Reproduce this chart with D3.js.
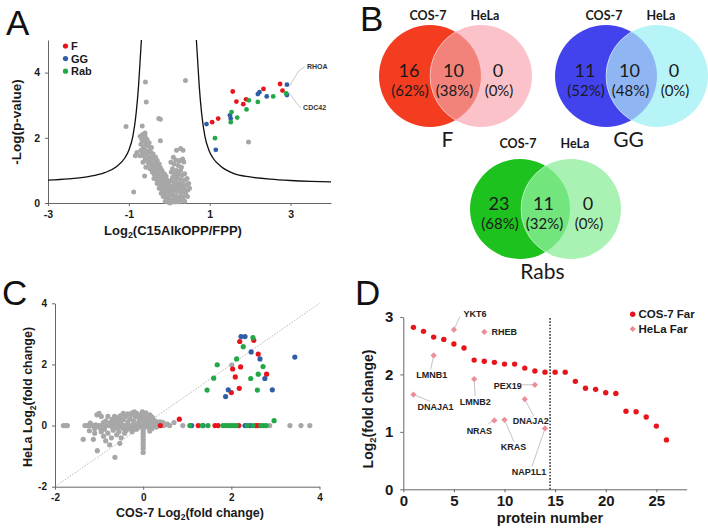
<!DOCTYPE html>
<html>
<head>
<meta charset="utf-8">
<script src="https://cdn.jsdelivr.net/npm/d3@7"></script>
<style>
body { margin: 0; background: #fff; }
svg { display: block; }
text { font-family: "Liberation Sans", Arial, sans-serif; }
.venn text { font-family: Lato, "Open Sans", sans-serif; }
</style>
</head>
<body>
<svg id="fig" width="708" height="530"></svg>
<script>
// ---------- panel A : volcano, [log2 ratio, -log p] ----------
const aXTicks = [-3, -1, 1, 3]
const aYTicks = [0, 2, 4]
const aF = [[1.06,2.48],[1.21,2.59],[1.57,3.42],[1.66,3.11],[1.83,3.03],[1.90,3.18],[2.33,3.50],[2.74,3.65],[2.80,3.45]]
const aGG = [[0.92,2.42],[1.15,1.63],[1.50,2.69],[1.52,2.59],[2.19,3.34],[2.23,3.40],[2.41,3.27],[2.91,3.63],[2.91,3.31]]
const aRab = [[1.13,1.99],[1.52,2.48],[1.54,2.79],[1.68,2.62],[1.91,2.87],[1.97,3.15],[2.19,3.10],[2.57,3.27],[2.89,3.36]]
const aGray = [
  [-0.59,3.71],[0.40,3.76],[-0.57,3.10],[-0.26,2.59],[-0.22,2.57],[-1.07,2.35],[-0.67,2.36],[-0.22,1.91],
  [0.18,1.62],[0.28,1.67],[0.34,1.62],[-0.88,0.34],[-0.61,0.83],[1.96,1.87],[-0.84,1.45],[0.36,1.26],
  [-0.72,2.05],[-0.66,2.1],[-0.6,2.05],[-0.68,1.95],[-0.62,1.9],[-0.55,1.95],[-0.7,1.8],[-0.58,1.8],
  [-0.64,1.7],[-0.52,1.75],[-0.6,1.62],[-0.5,1.6],[-0.56,1.5],[-0.45,1.55],[-0.62,1.45],[-0.5,1.4],
  [-0.42,1.42],[-0.55,1.32],[-0.46,1.3],[-0.38,1.35],[-0.5,1.2],[-0.4,1.2],[-0.33,1.25],[-0.45,1.1],
  [-0.36,1.1],[-0.28,1.15],[-0.42,1.0],[-0.32,1.0],[-0.24,1.05],[-0.38,0.9],[-0.28,0.9],[-0.2,0.95],
  [-0.34,0.8],[-0.25,0.8],[-0.16,0.85],[-0.3,0.7],[-0.2,0.7],[-0.12,0.75],[-0.26,0.6],[-0.16,0.6],
  [-0.08,0.65],[-0.22,0.5],[-0.12,0.5],[-0.04,0.55],[-0.18,0.4],[-0.08,0.4],[0.0,0.45],[-0.14,0.3],
  [-0.05,0.3],[0.02,0.35],[-0.1,0.2],[-0.02,0.2],[0.04,0.25],[-0.06,0.1],[0.0,0.1],[0.04,0.05],
  [-0.02,0.02],[0.02,0.0],[-0.8,1.55],[-0.72,1.45],[-0.65,1.25],[-0.58,1.1],
  [-0.6,2.15],[-0.5,1.85],[-0.44,1.7],[-0.4,1.5],[-0.34,1.4],[-0.3,1.3],[-0.25,1.2],[-0.22,1.08],
  [-0.18,1.0],[-0.12,0.9],[-0.08,0.82],[-0.05,0.7],[-0.02,0.62],[0.0,0.55],[-0.7,1.62],[-0.66,1.55],
  [-0.6,1.35],[-0.52,1.25],[-0.48,1.05],[-0.42,0.95],[-0.38,0.75],[-0.3,0.6],[-0.25,0.45],[-0.2,0.3],
  [-0.15,0.2],[-0.1,0.05],
  [0.1,1.4],[0.16,1.32],[0.24,1.28],[0.12,1.2],[0.22,1.15],[0.3,1.1],[0.08,1.05],[0.18,1.0],
  [0.28,1.0],[0.12,0.9],[0.22,0.88],[0.32,0.85],[0.08,0.78],[0.18,0.75],[0.28,0.72],[0.38,0.7],
  [0.12,0.62],[0.22,0.6],[0.32,0.58],[0.42,0.55],[0.08,0.5],[0.16,0.48],[0.26,0.45],[0.36,0.45],
  [0.46,0.4],[0.12,0.38],[0.2,0.35],[0.3,0.32],[0.4,0.3],[0.08,0.25],[0.16,0.22],[0.26,0.2],
  [0.34,0.18],[0.1,0.12],[0.2,0.1],[0.28,0.08],[0.06,0.05],[0.14,0.03],
  [0.04,1.25],[0.05,0.95],[0.04,0.68],[0.03,0.4],[0.33,1.35],[0.38,0.9],[0.44,0.75],[0.48,0.6],
  [0.5,0.45],[0.45,0.2],[0.38,0.05],[0.24,0.03],[0.3,0.5],[0.36,0.35],[0.25,0.55],[0.15,0.65],
  [0.2,0.85],[0.26,1.3]
]
const aCurveLeft = [[-3,0.70],[-2.5,0.74],[-2,0.81],[-1.6,0.93],[-1.3,1.12],[-1.1,1.38],[-1.0,1.62],[-0.9,2.05],[-0.82,2.75],[-0.76,3.6],[-0.72,4.4],[-0.69,5.0]]
const aCurveRight = [[0.67,5.0],[0.70,4.4],[0.74,3.6],[0.80,2.75],[0.88,2.05],[0.98,1.62],[1.08,1.38],[1.28,1.12],[1.6,0.9],[2,0.8],[2.5,0.73],[3,0.69],[3.5,0.665],[4,0.65]]
const aCallNames = ['RHOA', 'CDC42']
const aCallPts = [[2.91,3.63],[2.89,3.36]]

// ---------- panel B : venn counts ----------
const vennNames = ['F', 'GG', 'Rabs']
const vennCos = [16, 11, 23]
const vennShared = [10, 10, 11]
const vennHela = [0, 0, 0]
const vennSetNames = ['COS-7', 'HeLa']

// ---------- panel C : COS-7 vs HeLa log2 fold change ----------
const cTicks = [-2, 0, 2, 4]
const cF = [[2.19,2.75],[2.51,2.79],[2.61,2.34],[2.03,1.85],[2.21,1.92],[2.80,1.68],[2.09,1.59],[2.18,1.22],[2.00,1.08],
  [0.39,0],[0.82,0.21],[1.25,0],[1.63,0],[1.70,0],[2.17,0],[2.56,0],[2.61,0]]
const cGG = [[2.22,2.91],[2.31,2.91],[2.45,2.41],[2.65,2.18],[2.76,1.54],[3.44,2.24],[1.93,1.17],[1.87,0.95],[2.93,1.17],
  [1.10,0],[1.36,0],[2.31,0],[2.42,0]]
const cRab = [[2.49,2.88],[2.27,2.58],[2.12,2.18],[1.68,1.99],[2.72,1.93],[2.61,1.68],[2.44,1.54],[1.60,1.55],[1.45,1.16],[2.59,1.16],
  [1.06,0],[1.34,0],[1.47,0],[1.81,0],[1.87,0],[1.93,0],[1.99,0],[2.05,0],[2.11,0],[2.36,0],[2.49,0],[2.67,0],[2.73,0],[2.79,0],[2.97,0.16]]
const cGray = [
  [2.01,1.98],[-1.81,0],[-1.76,0],[-1.72,0],[2.87,0],[3.33,0],[3.58,0],[3.78,0],[0.55,0.05],[0.7,0.1],[0.9,0],
  [-1.32,0],[-1.26,0],[-1.2,0],[-1.14,0],[-1.08,0.02],[-1.02,0],[-0.96,0],[-0.9,0.03],[-0.84,0],[-0.78,0],
  [-0.72,0.02],[-0.66,0],[-0.6,0],[-0.54,0.03],[-0.48,0],[-0.42,0],[-0.36,0.02],[-0.3,0],[-0.24,0],[-0.18,0.02],
  [-0.12,0],[-0.06,0],[0.04,0],[0.1,0.02],[0.16,0],[0.22,0],[0.28,0.02],[0.34,0],[0.46,0],[0.52,0.03],[0.6,0],
  [-0.95,0.3],[-1.0,0.4],[-1.05,0.35],[-0.85,0.15],[-0.75,0.1],[-0.7,0.2],[-0.62,0.12],[-0.58,0.25],[-0.5,0.1],
  [-0.45,0.2],[-0.4,0.3],[-0.35,0.12],[-0.3,0.22],[-0.28,0.35],[-0.22,0.15],[-0.18,0.28],[-0.15,0.4],[-0.1,0.12],
  [-0.08,0.25],[-0.05,0.35],[-0.02,0.45],[0.02,0.15],[0.05,0.3],[0.06,0.42],[0.1,0.1],[0.12,0.22],[0.15,0.35],
  [0.2,0.12],[0.22,0.25],[0.28,0.15],[0.32,0.08],[0.38,0.12],[0.42,0.06],[-0.55,0.18],[-0.65,0.05],
  [-0.9,0.1],[-0.8,0.3],[-0.65,0.3],[-0.52,0.32],[-0.45,0.4],[-0.35,0.38],[-0.25,0.42],[-0.12,0.3],
  [-0.2,0.45],[0.08,0.2],[0.18,0.3],[0.25,0.08],[-1.2,0.08],[0.45,0.1],
  [-1.36,-0.45],[-1.22,-0.17],[-1.13,-0.45],[-1.04,-0.82],[-0.64,-1.04],[-0.76,-0.63],[-0.53,-0.58],[-1.1,-0.25],
  [-0.95,-0.2],[-0.9,-0.35],[-0.85,-0.5],[-0.8,-0.25],[-0.72,-0.4],[-0.68,-0.15],[-0.6,-0.3],[-0.55,-0.2],
  [-0.5,-0.4],[-0.45,-0.1],[-0.42,-0.25],[-0.38,-0.15],[-0.3,-0.1],[-0.25,-0.2],[-0.2,-0.08],[-0.15,-0.12],
  [-0.1,-0.05],[0.1,-0.05],[0.2,-0.1],[0.15,-0.18],[-1.1,-0.1],[-0.98,-0.08],[-0.88,-0.12],[-0.7,-0.05],
  [-0.62,-0.08],[-0.55,-0.05],[-0.35,-0.05],[0.3,-0.05],
  [0,-0.05],[0,-0.15],[0,-0.25],[0,-0.35],[0,-0.45],[0,-0.55],[0,-0.65],[0,-0.75],[0,-0.88],[0,0.05],[0,0.2],[0,0.35]
]

// ---------- panel D : farnesylated proteins ----------
const dXTicks = [0, 5, 10, 15, 20, 25]
const dYTicks = [0, 1, 2, 3]
const dProtein = [1,2,3,4,5,6,7,8,9,10,11,12,13,14,15,16,17,18,19,20,21,22,23,24,25,26]
const dCos = [2.82,2.75,2.65,2.61,2.53,2.46,2.25,2.23,2.21,2.18,2.18,2.11,2.06,2.04,2.04,2.04,1.88,1.76,1.74,1.68,1.67,1.36,1.35,1.26,1.10,0.86]
const dHelaNames = ['DNAJA1','LMNB1','YKT6','LMNB2','RHEB','NRAS','KRAS','DNAJA2','PEX19','NAP1L1']
const dHelaPos = [1,3,5,7,8,9,10,12,13,14]
const dHelaVal = [1.65,2.33,2.78,1.92,2.74,1.20,1.21,1.57,1.82,1.06]
const dCutoff = 14.5

const RED = '#e8141c', BLUE = '#2f5ea6', GREEN = '#22a846', GRAY = '#a7a7a7', PINK = '#ec8e97'
const AXIS = '#666'

const svg = d3.select('#fig')

function dots(g, pts, x, y, r, fill) {
    g.append('g').selectAll('circle').data(pts).join('circle')
        .attr('cx', d => x(d[0])).attr('cy', d => y(d[1]))
        .attr('r', r).attr('fill', fill)
}

function styleAxis(g, size) {
    g.attr('font-family', '"Liberation Sans", Arial, sans-serif')
        .attr('font-size', size).attr('font-weight', 'bold')
    g.select('.domain').attr('stroke', AXIS)
    g.selectAll('.tick line').attr('stroke', AXIS)
    g.selectAll('.tick text').attr('fill', '#1a1a1a')
}

// label with a subscript, e.g. Log2(...)
function subText(t, pre, sub, post, size) {
    t.attr('font-size', size).attr('font-weight', 'bold').attr('fill', '#1a1a1a')
    t.append('tspan').text(pre)
    t.append('tspan').text(sub).attr('font-size', size * 0.68).attr('dy', size * 0.25)
    t.append('tspan').text(post).attr('dy', -size * 0.25)
}

function panelLetter(x, y, s) {
    svg.append('text').attr('x', x).attr('y', y).text(s)
        .attr('font-size', 35).attr('fill', '#111')
        .style('font-family', '"Liberation Sans", Arial, sans-serif')
}

// ================= A =================
{
    const x = d3.scaleLinear().domain([-3, 4]).range([48, 331])
    const y = d3.scaleLinear().domain([0, 5]).range([203, 40])
    const g = svg.append('g')

    const xa = g.append('g').attr('transform', `translate(0,${y(0)})`)
        .call(d3.axisBottom(x).tickValues(aXTicks).tickSize(3).tickSizeOuter(0).tickPadding(5).tickFormat(d => String(d)))
    styleAxis(xa, 10.5)
    const ya = g.append('g').attr('transform', `translate(${x(-3)},0)`)
        .call(d3.axisLeft(y).tickValues(aYTicks).tickSize(3).tickSizeOuter(0).tickPadding(5).tickFormat(d => String(d)))
    styleAxis(ya, 10.5)

    dots(g, aGray, x, y, 2.5, GRAY)

    const line = d3.line().x(d => x(d[0])).y(d => y(d[1])).curve(d3.curveMonotoneX)
    ;[aCurveLeft, aCurveRight].forEach(c => {
        g.append('path').attr('d', line(c)).attr('fill', 'none')
            .attr('stroke', '#111').attr('stroke-width', 1.3)
    })

    dots(g, aF, x, y, 2.4, RED)
    dots(g, aGG, x, y, 2.4, BLUE)
    dots(g, aRab, x, y, 2.4, GREEN)

    // callouts
    const callOff = [[[12, -14], [18, -18]], [[13, 13], [15, 14]]]
    aCallNames.forEach((n, i) => {
        const px = x(aCallPts[i][0]), py = y(aCallPts[i][1])
        const o = callOff[i]
        g.append('polyline')
            .attr('points', [[px + 2, py - Math.sign(o[0][1]) * 2], [px + o[0][0], py + o[0][1]], [px + o[1][0], py + o[1][1]]].join(' '))
            .attr('fill', 'none').attr('stroke', '#bbb').attr('stroke-width', 0.8)
        g.append('text').attr('x', px + o[1][0] + 2).attr('y', py + o[1][1]).attr('dy', '0.35em')
            .attr('font-size', 7).attr('font-weight', 'bold').attr('fill', '#333').text(n)
    })

    // legend
    const leg = [['F', RED], ['GG', BLUE], ['Rab', GREEN]]
    leg.forEach((l, i) => {
        g.append('circle').attr('cx', 65.5).attr('cy', 46 + i * 12.6).attr('r', 2.6).attr('fill', l[1])
        g.append('text').attr('x', 71).attr('y', 46 + i * 12.6).attr('dy', '0.36em')
            .attr('font-size', 11).attr('font-weight', 'bold').attr('fill', '#1a1a1a').text(l[0])
    })

    g.append('text').attr('x', 173).attr('y', 235).attr('text-anchor', 'middle')
        .call(t => subText(t, 'Log', '2', '(C15AlkOPP/FPP)', 13))
    g.append('text').attr('transform', 'translate(16,122) rotate(-90)').attr('text-anchor', 'middle')
        .attr('dy', '0.35em').attr('font-size', 13.5).attr('font-weight', 'bold').attr('fill', '#1a1a1a')
        .text('-Log(p-value)')
    panelLetter(6, 35, 'A')
}

// ================= B =================
{
    const layout = [
        { cx: 430, cy: 76, r: 51, d: 51, colors: ['#f43c20', '#fbc3c9', '#f3837a'], head: 20, lab: 147, labDx: -8 },
        { cx: 606, cy: 76, r: 51, d: 51, colors: ['#4343ee', '#b6f4f7', '#8fb6f3'], head: 20, lab: 147, labDx: -3 },
        { cx: 520, cy: 209, r: 50, d: 51, colors: ['#1ec21e', '#aaf2b3', '#72e57d'], head: 148, lab: 279, labDx: -3 }
    ]
    const fmt = d3.format('.0%')
    const g = svg.append('g').attr('class', 'venn')
    const defs = svg.append('defs')

    vennNames.forEach((name, i) => {
        const L = layout[i]
        const x2 = L.cx + L.d
        const total = vennCos[i] + vennShared[i] + vennHela[i]
        defs.append('clipPath').attr('id', 'vclip' + i)
            .append('circle').attr('cx', L.cx).attr('cy', L.cy).attr('r', L.r)
        g.append('circle').attr('cx', L.cx).attr('cy', L.cy).attr('r', L.r).attr('fill', L.colors[0])
        g.append('circle').attr('cx', x2).attr('cy', L.cy).attr('r', L.r).attr('fill', L.colors[1])
        g.append('circle').attr('cx', x2).attr('cy', L.cy).attr('r', L.r).attr('fill', L.colors[2])
            .attr('stroke', 'rgba(255,255,255,0.45)').attr('stroke-width', 1)
            .attr('clip-path', `url(#vclip${i})`)

        const mid = (L.cx + x2) / 2
        const regions = [[L.cx - 21, vennCos[i]], [mid - 2, vennShared[i]], [x2 + 17, vennHela[i]]]
        regions.forEach(r => {
            g.append('text').attr('x', r[0]).attr('y', L.cy + 1).attr('text-anchor', 'middle')
                .attr('font-size', 18).attr('fill', '#1a1a1a').text(r[1])
            g.append('text').attr('x', r[0] + 1).attr('y', L.cy + 20).attr('text-anchor', 'middle')
                .attr('font-size', 15).attr('fill', '#1a1a1a').text(`(${fmt(r[1] / total)})`)
        })
        g.append('text').attr('x', L.cx - 2).attr('y', L.head).attr('text-anchor', 'middle')
            .attr('font-size', 12.5).attr('font-weight', 'bold').attr('fill', '#1a1a1a').text(vennSetNames[0])
        g.append('text').attr('x', x2 + 4).attr('y', L.head).attr('text-anchor', 'middle')
            .attr('font-size', 12.5).attr('font-weight', 'bold').attr('fill', '#1a1a1a').text(vennSetNames[1])
        g.append('text').attr('x', mid + L.labDx).attr('y', L.lab).attr('text-anchor', 'middle')
            .attr('font-size', 21).attr('fill', '#1a1a1a').text(name)
    })
    panelLetter(360, 31, 'B')
}

// ================= C =================
{
    const x = d3.scaleLinear().domain([-2, 4]).range([55, 319.5])
    const y = d3.scaleLinear().domain([-2, 4]).range([486.7, 303.3])
    const g = svg.append('g')

    g.append('line').attr('x1', x(-2)).attr('y1', y(-2)).attr('x2', x(4)).attr('y2', y(4))
        .attr('stroke', '#9a9a9a').attr('stroke-width', 0.7).attr('stroke-dasharray', '1.5,1.5')

    const xa = g.append('g').attr('transform', `translate(0,${y(-2)})`)
        .call(d3.axisBottom(x).tickValues(cTicks).tickSize(3).tickSizeOuter(0).tickPadding(4).tickFormat(d => String(d)))
    styleAxis(xa, 10)
    const ya = g.append('g').attr('transform', `translate(${x(-2)},0)`)
        .call(d3.axisLeft(y).tickValues(cTicks).tickSize(3).tickSizeOuter(0).tickPadding(5).tickFormat(d => String(d)))
    styleAxis(ya, 10)

    dots(g, cGray, x, y, 2.6, GRAY)
    dots(g, cF, x, y, 2.6, RED)
    dots(g, cGG, x, y, 2.6, BLUE)
    dots(g, cRab, x, y, 2.6, GREEN)

    g.append('text').attr('x', 190).attr('y', 517).attr('text-anchor', 'middle')
        .call(t => subText(t, 'COS-7 Log', '2', '(fold change)', 12.5))
    g.append('text').attr('transform', 'translate(28,397) rotate(-90)').attr('text-anchor', 'middle')
        .attr('dy', '0.35em')
        .call(t => subText(t, 'HeLa Log', '2', '(fold change)', 12.5))
    panelLetter(2, 305, 'C')
}

// ================= D =================
{
    const x = d3.scaleLinear().domain([0, 28]).range([403.3, 686.7])
    const y = d3.scaleLinear().domain([0, 3]).range([489.3, 317])
    const g = svg.append('g')

    const xa = g.append('g').attr('transform', `translate(0,${y(0)})`)
        .call(d3.axisBottom(x).tickValues(dXTicks).tickSize(3).tickSizeOuter(0).tickPadding(3).tickFormat(d => String(d)))
    styleAxis(xa, 15)
    const ya = g.append('g').attr('transform', `translate(${x(0)},0)`)
        .call(d3.axisLeft(y).tickValues(dYTicks).tickSize(3).tickSizeOuter(0).tickPadding(7).tickFormat(d => String(d)))
    styleAxis(ya, 15)

    g.append('line').attr('x1', x(dCutoff)).attr('x2', x(dCutoff)).attr('y1', y(0)).attr('y2', y(3))
        .attr('stroke', '#222').attr('stroke-width', 1.4).attr('stroke-dasharray', '1.6,1.6')

    g.append('g').selectAll('circle').data(dProtein).join('circle')
        .attr('cx', d => x(d)).attr('cy', (d, i) => y(dCos[i])).attr('r', 2.7).attr('fill', RED)

    // leader end offsets and label offsets (px) per HeLa protein
    const leadOff = [[17, 7], [-3, 14], [6, -13], [1, 17], null, [-6, 3], [9.5, 22], [9, 17], [-13, 0], [-13, 38]]
    const labOff = [[22, 12], [-2, 19.5], [21, -15.5], [1, 22.5], [20, 0.3], [-15, 10], [9, 27], [6, 21.5], [-27, 1], [-16, 43]]
    dHelaNames.forEach((n, i) => {
        const px = x(dHelaPos[i]), py = y(dHelaVal[i])
        if (leadOff[i]) {
            g.append('line').attr('x1', px).attr('y1', py)
                .attr('x2', px + leadOff[i][0]).attr('y2', py + leadOff[i][1])
                .attr('stroke', '#b5b5b5').attr('stroke-width', 0.8)
        }
    })
    g.append('g').selectAll('rect').data(dHelaPos).join('rect')
        .attr('x', -2.2).attr('y', -2.2).attr('width', 4.4).attr('height', 4.4)
        .attr('transform', (d, i) => `translate(${x(d)},${y(dHelaVal[i])}) rotate(45)`)
        .attr('fill', PINK)
    dHelaNames.forEach((n, i) => {
        const px = x(dHelaPos[i]), py = y(dHelaVal[i])
        g.append('text').attr('x', px + labOff[i][0]).attr('y', py + labOff[i][1]).attr('dy', '0.35em')
            .attr('text-anchor', 'middle').attr('font-size', 9).attr('font-weight', 'bold').attr('fill', '#222').text(n)
    })

    // legend
    g.append('circle').attr('cx', 632.7).attr('cy', 314.3).attr('r', 2.7).attr('fill', RED)
    g.append('rect').attr('x', -2.2).attr('y', -2.2).attr('width', 4.4).attr('height', 4.4)
        .attr('transform', 'translate(632.7,329) rotate(45)').attr('fill', PINK)
    ;[['COS-7 Far', 314.3], ['HeLa Far', 329]].forEach(l => {
        g.append('text').attr('x', 638.5).attr('y', l[1]).attr('dy', '0.36em')
            .attr('font-size', 11.5).attr('font-weight', 'bold').attr('fill', '#1a1a1a').text(l[0])
    })

    g.append('text').attr('x', 550).attr('y', 523).attr('text-anchor', 'middle')
        .attr('font-size', 14.5).attr('font-weight', 'bold').attr('fill', '#1a1a1a').text('protein number')
    g.append('text').attr('transform', 'translate(368,409) rotate(-90)').attr('text-anchor', 'middle')
        .attr('dy', '0.35em')
        .call(t => subText(t, 'Log', '2', '(fold change)', 14))
    panelLetter(355, 305, 'D')
}
</script>
</body>
</html>
